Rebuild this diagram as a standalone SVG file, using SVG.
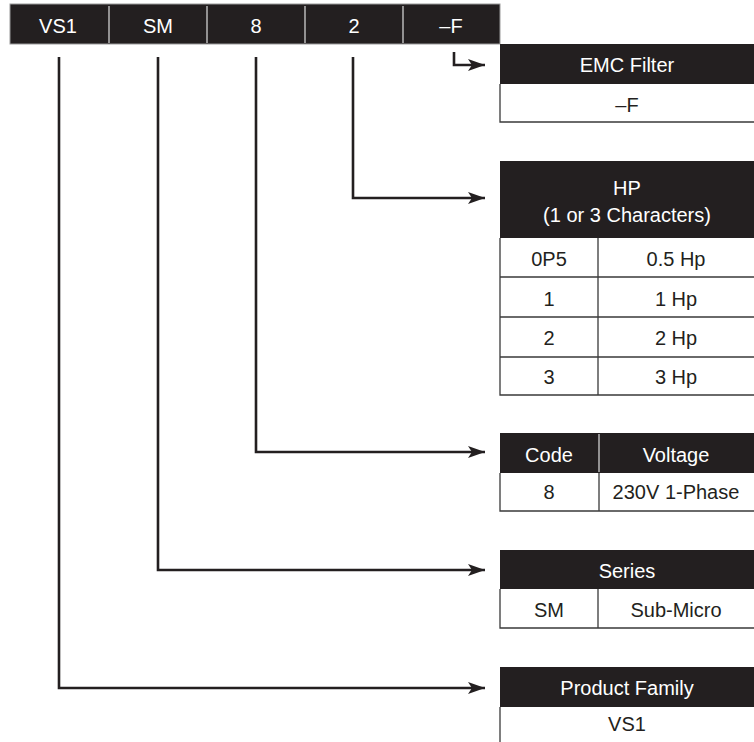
<svg xmlns="http://www.w3.org/2000/svg" width="754" height="742" viewBox="0 0 754 742">
<defs>
<style>
.t{font-family:"Liberation Sans",Arial,sans-serif;font-size:20px;text-anchor:middle}
.b{font-size:20px}
.w{fill:#ffffff}
.k{fill:#231f20}
.hd{fill:#231f20}
.bd{stroke:#3a3a3a;stroke-width:1.3;fill:none}
.cn{stroke:#231f20;stroke-width:2.6;fill:none;marker-end:url(#ah)}
.dv{stroke:#cfcfcf;stroke-width:1.3}
</style>
<marker id="ah" markerUnits="userSpaceOnUse" markerWidth="18" markerHeight="14" refX="17" refY="7" orient="auto">
<path d="M0,1 L17,7 L0,13 L4,7 Z" fill="#231f20"/>
</marker>
</defs>
<rect width="754" height="742" fill="#ffffff"/>

<g id="code-bar">
<rect x="10" y="4" width="490" height="40" fill="#231f20" stroke="#9a9a9a" stroke-width="1"/>
<line class="dv" x1="109" y1="6" x2="109" y2="43"/>
<line class="dv" x1="207" y1="6" x2="207" y2="43"/>
<line class="dv" x1="305" y1="6" x2="305" y2="43"/>
<line class="dv" x1="403" y1="6" x2="403" y2="43"/>
<text class="t w" x="58" y="33">VS1</text>
<text class="t w" x="158" y="33">SM</text>
<text class="t w" x="256" y="33">8</text>
<text class="t w" x="354" y="33">2</text>
<text class="t w" x="451" y="33">–F</text>
</g>

<g id="connectors">
<path class="cn" d="M59,57 V688 H485"/>
<path class="cn" d="M158,57 V570 H485"/>
<path class="cn" d="M256,57 V452 H485"/>
<path class="cn" d="M353,57 V198 H485"/>
<path class="cn" d="M454,52 V65 H485"/>
</g>

<g id="emc-filter">
<rect class="hd" x="500" y="44" width="254" height="40"/>
<path class="bd" d="M500,84 V122 H754"/>
<text class="t w" x="627" y="72">EMC Filter</text>
<text class="t k" x="627" y="112">–F</text>
</g>

<g id="hp">
<rect class="hd" x="500" y="161" width="254" height="77"/>
<path class="bd" d="M500,238 V395 H754 M500,277 H754 M500,317 H754 M500,357 H754 M598,238 V395"/>
<text class="t w" x="627" y="195">HP</text>
<text class="t w" x="627" y="222">(1 or 3 Characters)</text>
<text class="t k" x="549" y="266">0P5</text>
<text class="t k" x="676" y="266">0.5 Hp</text>
<text class="t k" x="549" y="306">1</text>
<text class="t k" x="676" y="306">1 Hp</text>
<text class="t k" x="549" y="345">2</text>
<text class="t k" x="676" y="345">2 Hp</text>
<text class="t k" x="549" y="384">3</text>
<text class="t k" x="676" y="384">3 Hp</text>
</g>

<g id="voltage">
<rect class="hd" x="500" y="433" width="254" height="40"/>
<line x1="599" y1="434" x2="599" y2="472" stroke="#cfcfcf" stroke-width="1.3"/>
<path class="bd" d="M500,473 V511 H754 M599,473 V511"/>
<text class="t w" x="549" y="462">Code</text>
<text class="t w" x="676" y="462">Voltage</text>
<text class="t k" x="549" y="499">8</text>
<text class="t k" x="676" y="499">230V 1-Phase</text>
</g>

<g id="series">
<rect class="hd" x="500" y="550" width="254" height="39"/>
<path class="bd" d="M500,589 V628 H754 M598,589 V628"/>
<text class="t w" x="627" y="578">Series</text>
<text class="t k" x="549" y="617">SM</text>
<text class="t k" x="676" y="617">Sub-Micro</text>
</g>

<g id="product-family">
<rect class="hd" x="500" y="667" width="254" height="40"/>
<path class="bd" d="M500,707 V742"/>
<text class="t w" x="627" y="695">Product Family</text>
<text class="t k" x="627" y="731">VS1</text>
</g>
</svg>
